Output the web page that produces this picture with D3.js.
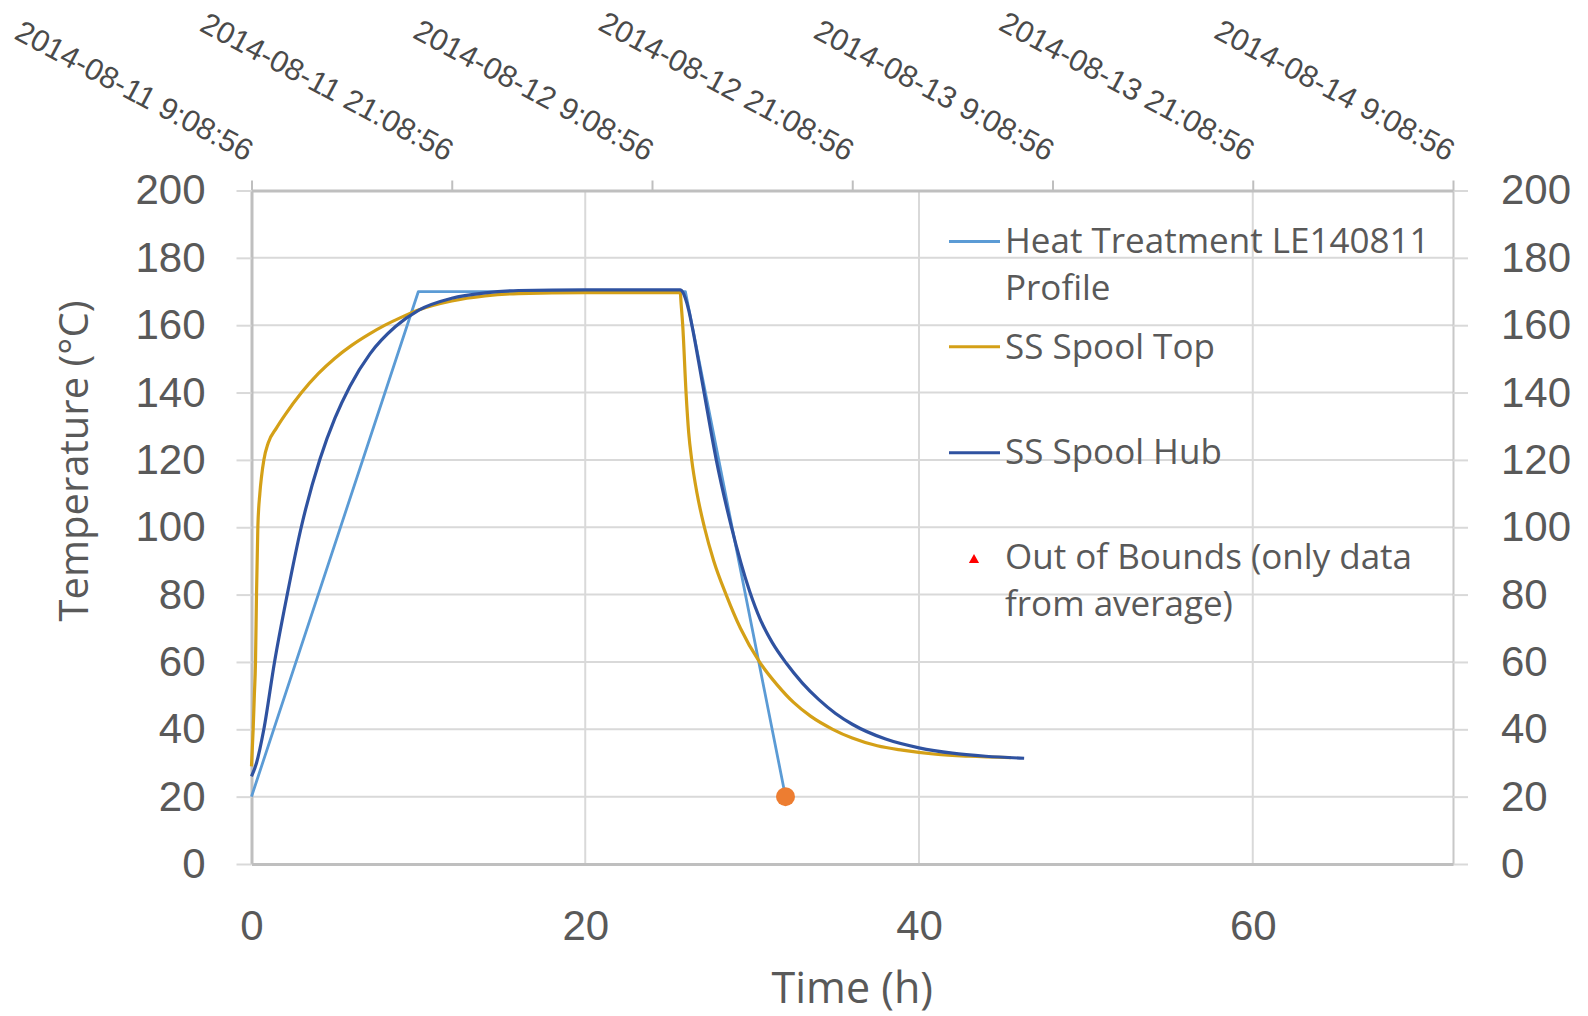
<!DOCTYPE html>
<html>
<head>
<meta charset="utf-8">
<script src="https://cdn.jsdelivr.net/npm/d3@7"></script>
<style>
  body { margin: 0; background: #fff; }
  svg { display: block; font-family: 'Open Sans', sans-serif; }
</style>
</head>
<body>
<div id="chart"></div>
<script>
// ---- data (hours, °C) ----
const profileTime = [0, 10, 26, 32]
const profileTemp = [20, 170, 170, 20]

const topTime = [0, 0.1, 0.17, 0.24, 0.3, 0.38, 0.5, 0.6, 0.74, 1.0, 1.5, 2.0, 3.0, 4.0, 5.0, 6.0, 7.0, 8.0, 9.0, 10, 12, 14, 16, 20, 25.69,
  25.75, 25.84, 26.04, 26.2, 26.38, 26.7, 27.14, 27.7, 28.44, 29.3, 30.44, 31.5, 32.5, 33.5, 34.83, 36, 37.5, 39, 41, 43, 45.5]
const topTemp = [29, 40, 50, 60, 80, 100, 110, 115, 120, 125, 129.5, 133.3, 140, 145.6, 150.2, 154, 157.2, 160, 162.4, 164.5, 167.2, 168.7, 169.4, 169.7, 169.7,
  166, 160, 140, 128, 120, 110, 100, 90, 80, 70, 60, 53.2, 47.9, 43.9, 40, 37.4, 35.1, 33.8, 32.6, 32, 31.6]

const hubTime = [0, 0.3, 0.74, 1.38, 2.14, 2.98, 4.1, 5.0, 5.9, 7.1, 8.63, 10.03, 12, 14, 16, 20, 25.7,
  25.85, 26.0, 26.2, 26.45, 26.8, 27.14, 27.84, 28.74, 29.85, 30.5, 31.2, 32.05, 33, 34, 35, 36, 38, 40, 42, 44, 46.3]
const hubTemp = [26, 30, 40, 60, 80, 100, 120.2, 132.4, 141.9, 151.5, 159.6, 164.5, 168, 169.6, 170.3, 170.5, 170.5,
  169.8, 168, 164.5, 158.5, 149, 139.5, 120.3, 100.5, 81, 72.5, 65.8, 59.6, 53.8, 48.8, 44.7, 41.5, 37.1, 34.5, 32.9, 32, 31.4]

const endTime = [32]
const endTemp = [20]

const tempTicks = [0, 20, 40, 60, 80, 100, 120, 140, 160, 180, 200]
const timeTicks = [0, 20, 40, 60]
const dateTickHours = [0, 12, 24, 36, 48, 60, 72]
const dateTickLabels = ['2014-08-11 9:08:56', '2014-08-11 21:08:56', '2014-08-12 9:08:56', '2014-08-12 21:08:56',
  '2014-08-13 9:08:56', '2014-08-13 21:08:56', '2014-08-14 9:08:56']

const seriesNames = ['Heat Treatment LE140811 Profile', 'SS Spool Top', 'SS Spool Hub', 'Out of Bounds (only data from average)']

// ---- chart ----
const width = 1588
const height = 1016
const textColor = '#595959'
const colors = { profile: '#5B9BD5', top: '#D4A017', hub: '#2F52A0', end: '#ED7D31', oob: '#FF0000' }

const svg = d3.select('#chart').append('svg').attr('width', width).attr('height', height)

const x = d3.scaleLinear().domain([0, 72]).range([251.5, 1453])
const y = d3.scaleLinear().domain([0, 200]).range([864, 190.5])

// gridlines
svg.append('g')
  .selectAll('line')
  .data(tempTicks.filter(d => d > 0 && d < 200))
  .join('line')
  .attr('x1', x(0)).attr('x2', x(72))
  .attr('y1', d => y(d)).attr('y2', d => y(d))
  .attr('stroke', '#D9D9D9').attr('stroke-width', 2)

svg.append('g')
  .selectAll('line')
  .data(timeTicks.filter(d => d > 0))
  .join('line')
  .attr('x1', d => x(d)).attr('x2', d => x(d))
  .attr('y1', y(0)).attr('y2', y(200))
  .attr('stroke', '#D9D9D9').attr('stroke-width', 2)

function styleAxis(g, size) {
  g.selectAll('.tick line').attr('stroke', '#D9D9D9').attr('stroke-width', 2)
  g.selectAll('text').attr('fill', textColor).style('font-size', size + 'px')
}

// left axis
svg.append('g')
  .attr('transform', `translate(${x(0)},0)`)
  .call(d3.axisLeft(y).tickValues(tempTicks).tickSize(15).tickSizeOuter(0).tickPadding(31))
  .call(g => g.select('.domain').attr('stroke', '#BFBFBF').attr('stroke-width', 3))
  .call(g => styleAxis(g, 42))

// right axis
svg.append('g')
  .attr('transform', `translate(${x(72)},0)`)
  .call(d3.axisRight(y).tickValues(tempTicks).tickSize(15).tickSizeOuter(0).tickPadding(33))
  .call(g => g.select('.domain').attr('stroke', '#C8C8C8').attr('stroke-width', 2))
  .call(g => styleAxis(g, 42))

// bottom axis
svg.append('g')
  .attr('transform', `translate(0,${y(0)})`)
  .call(d3.axisBottom(x).tickValues(timeTicks).tickSize(0).tickSizeOuter(0).tickPadding(46))
  .call(g => g.select('.domain').attr('stroke', '#BFBFBF').attr('stroke-width', 3))
  .call(g => styleAxis(g, 42))

// top date axis
svg.append('g')
  .attr('transform', `translate(0,${y(200)})`)
  .call(d3.axisTop(x).tickValues(dateTickHours).tickSize(10).tickSizeOuter(0)
    .tickFormat((d, i) => dateTickLabels[i]))
  .call(g => g.select('.domain').attr('stroke', '#BFBFBF').attr('stroke-width', 3))
  .call(g => g.selectAll('.tick line').attr('stroke', '#BFBFBF').attr('stroke-width', 2))
  .call(g => g.selectAll('text')
    .attr('fill', '#4a4a4a')
    .style('font-size', '30.5px')
    .attr('x', 0).attr('y', 0).attr('dy', 0)
    .attr('text-anchor', 'end')
    .attr('transform', 'translate(-6,-28.5) rotate(28)'))

// axis titles
svg.append('text')
  .attr('x', (x(0) + x(72)) / 2).attr('y', 1003)
  .attr('text-anchor', 'middle')
  .attr('fill', textColor).style('font-size', '43px')
  .text('Time (h)')

svg.append('text')
  .attr('transform', 'translate(88,461) rotate(-90)')
  .attr('text-anchor', 'middle')
  .attr('fill', textColor).style('font-size', '40px')
  .text('Temperature (°C)')

// series
const line = d3.line().x(d => x(d[0])).y(d => y(d[1]))
const smooth = d3.line().x(d => x(d[0])).y(d => y(d[1])).curve(d3.curveMonotoneX)

svg.append('path')
  .datum(d3.zip(profileTime, profileTemp))
  .attr('d', line)
  .attr('fill', 'none').attr('stroke', colors.profile).attr('stroke-width', 2.8)
  .attr('stroke-linejoin', 'round')

svg.append('path')
  .datum(d3.zip(topTime, topTemp))
  .attr('d', smooth)
  .attr('fill', 'none').attr('stroke', colors.top).attr('stroke-width', 3.2)
  .attr('stroke-linejoin', 'round')

svg.append('path')
  .datum(d3.zip(hubTime, hubTemp))
  .attr('d', smooth)
  .attr('fill', 'none').attr('stroke', colors.hub).attr('stroke-width', 3.2)
  .attr('stroke-linejoin', 'round')

svg.append('g')
  .selectAll('circle')
  .data(d3.zip(endTime, endTemp))
  .join('circle')
  .attr('cx', d => x(d[0])).attr('cy', d => y(d[1]))
  .attr('r', 9.5)
  .attr('fill', colors.end)

// legend
const legend = svg.append('g').style('font-size', '35px').attr('fill', textColor)
const legendRows = [
  { lines: ['Heat Treatment LE140811', 'Profile'], base: 253, mark: 241.5, color: colors.profile, type: 'line' },
  { lines: [seriesNames[1]], base: 358.5, mark: 346.7, color: colors.top, type: 'line' },
  { lines: [seriesNames[2]], base: 463.5, mark: 452.7, color: colors.hub, type: 'line' },
  { lines: ['Out of Bounds (only data', 'from average)'], base: 569, mark: 560, color: colors.oob, type: 'tri' },
]
legendRows.forEach(r => {
  if (r.type === 'line') {
    legend.append('line')
      .attr('x1', 949).attr('x2', 1000).attr('y1', r.mark).attr('y2', r.mark)
      .attr('stroke', r.color).attr('stroke-width', 3)
  } else {
    legend.append('path')
      .attr('d', d3.symbol(d3.symbolTriangle, 45))
      .attr('transform', `translate(974,${r.mark})`)
      .attr('fill', r.color)
  }
  const t = legend.append('text').attr('x', 1005).attr('y', r.base)
  r.lines.forEach((s, i) => {
    t.append('tspan').attr('x', 1005).attr('dy', i === 0 ? 0 : 47).text(s)
  })
})
</script>
</body>
</html>
